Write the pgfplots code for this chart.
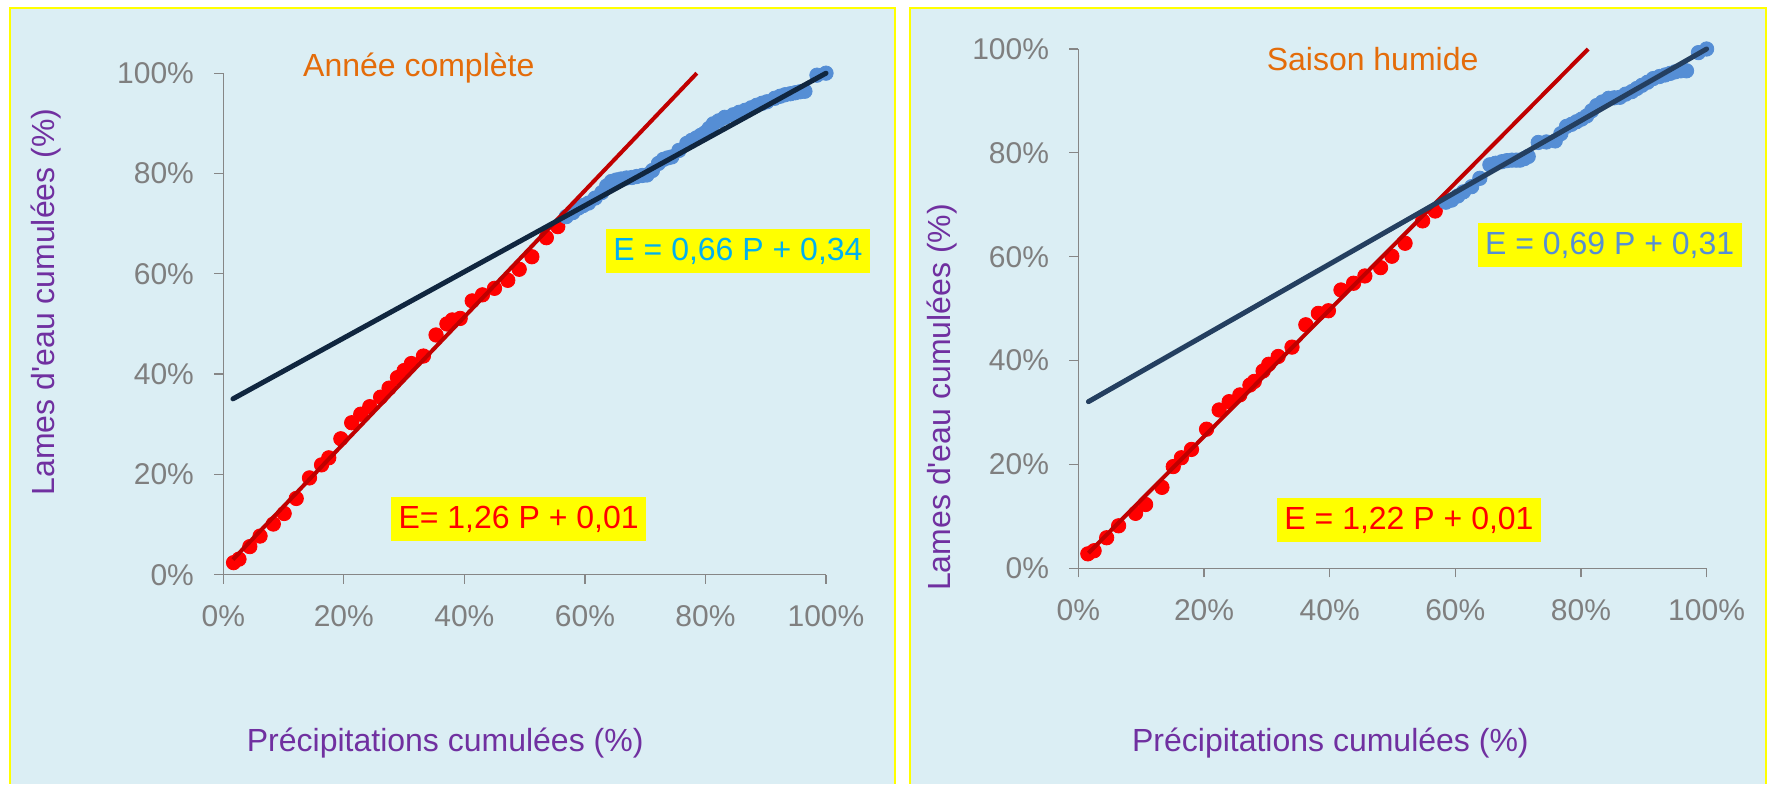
\documentclass[border=0pt]{standalone}
\usepackage{fontspec}
\setmainfont{Liberation Sans}
\usepackage{pgfplots}
\pgfplotsset{compat=1.18}
\definecolor{bgblue}{HTML}{DBEEF4}
\definecolor{ylw}{HTML}{FFFF00}
\definecolor{ttlorange}{HTML}{E46C0A}
\definecolor{lblpurple}{HTML}{7030A0}
\definecolor{eqcyan}{HTML}{00B0F0}
\definecolor{eqsteel}{HTML}{558ED5}
\definecolor{dotred}{HTML}{FF0000}
\definecolor{dotblue}{HTML}{558ED5}
\definecolor{linered}{HTML}{C00000}
\definecolor{navyA}{HTML}{10263F}
\definecolor{navyB}{HTML}{243F60}
\definecolor{axgray}{HTML}{868686}
\definecolor{tkgray}{HTML}{7F7F7F}

\pgfplotsset{myaxis/.style={
  scale only axis, anchor=south west,
  xmin=0, xmax=1, ymin=0, ymax=1,
  axis lines*=left,
  axis line style={axgray, line width=0.6pt},
  tick align=outside, major tick length=4.5pt,
  every tick/.style={axgray, line width=0.6pt},
  xtick={0,0.2,0.4,0.6,0.8,1}, ytick={0,0.2,0.4,0.6,0.8,1},
  xticklabels={0\%,20\%,40\%,60\%,80\%,100\%},
  yticklabels={0\%,20\%,40\%,60\%,80\%,100\%},
  ticklabel style={font=\fontsize{15}{18}\selectfont, text=tkgray},
  xticklabel style={anchor=center, inner sep=0pt, yshift=-16.3pt},
  yticklabel style={anchor=east, inner sep=0pt, xshift=-10pt},
  clip=false, clip marker paths=true,
}}
\pgfplotsset{
  reddot/.style={only marks, mark=*, mark size=3.6pt, color=dotred},
  bluedot/.style={only marks, mark=*, mark size=3.6pt, color=dotblue},
}

\begin{document}
\begin{tikzpicture}
\fill[white] (0,0) rectangle (884.5pt,392pt);
\fill[bgblue] (5pt,0) rectangle (447.5pt,388pt);
\draw[ylw, line width=1.2pt] (5pt,0) -- (5pt,388pt) -- (447.5pt,388pt) -- (447.5pt,0);
\fill[bgblue] (455pt,0) rectangle (883pt,388pt);
\draw[ylw, line width=1.2pt] (455pt,0) -- (455pt,388pt) -- (883pt,388pt) -- (883pt,0);

% ---------- left panel ----------
\begin{axis}[myaxis, at={(111.65pt,104.65pt)}, width=301.35pt, height=250.75pt]
\addplot[reddot] coordinates {
(0.017,0.024) (0.026,0.031) (0.044,0.056) (0.061,0.077) (0.083,0.101)
(0.101,0.122) (0.121,0.152) (0.143,0.193) (0.163,0.219) (0.175,0.233)
(0.195,0.271) (0.213,0.303) (0.228,0.320) (0.243,0.335) (0.261,0.354)
(0.275,0.372) (0.289,0.393) (0.300,0.407) (0.312,0.421) (0.332,0.436)
(0.353,0.478) (0.371,0.500) (0.380,0.508) (0.393,0.511) (0.413,0.546)
(0.430,0.558) (0.450,0.571) (0.472,0.587) (0.491,0.609) (0.512,0.634)
(0.536,0.672) (0.555,0.694)};
\addplot[bluedot] coordinates {
(0.569,0.714) (0.580,0.722) (0.589,0.731) (0.597,0.736) (0.606,0.741)
(0.617,0.751) (0.628,0.762) (0.636,0.775) (0.644,0.784) (0.652,0.787)
(0.660,0.789) (0.669,0.791) (0.678,0.792) (0.686,0.794) (0.695,0.796)
(0.703,0.797) (0.712,0.806) (0.722,0.820) (0.730,0.828) (0.737,0.831)
(0.744,0.833) (0.756,0.846) (0.769,0.860) (0.777,0.866) (0.785,0.871)
(0.792,0.876) (0.799,0.881) (0.806,0.890) (0.813,0.899) (0.822,0.905)
(0.832,0.912) (0.846,0.917) (0.856,0.922) (0.866,0.926) (0.876,0.931)
(0.885,0.936) (0.894,0.940) (0.902,0.943) (0.915,0.950) (0.924,0.954)
(0.932,0.957) (0.941,0.959) (0.949,0.961) (0.957,0.963) (0.965,0.964)
(0.985,0.996) (1.000,1.000)};
\addplot[linered, line width=2pt, line cap=butt] coordinates {(0.016,0.0302) (0.7857,1.0)};
\addplot[navyA, line width=2.5pt, line cap=round] coordinates {(0.016,0.3506) (1.0,1.0)};
\end{axis}

% ---------- right panel ----------
\begin{axis}[myaxis, at={(539.2pt,107.8pt)}, width=314.1pt, height=259.7pt]
\addplot[reddot] coordinates {
(0.015,0.028) (0.025,0.034) (0.045,0.059) (0.064,0.082) (0.091,0.106)
(0.107,0.123) (0.133,0.156) (0.151,0.196) (0.164,0.213) (0.180,0.229)
(0.204,0.268) (0.224,0.305) (0.240,0.321) (0.257,0.334) (0.273,0.353)
(0.280,0.360) (0.294,0.380) (0.303,0.393) (0.318,0.408) (0.340,0.426)
(0.362,0.469) (0.382,0.491) (0.398,0.496) (0.418,0.536) (0.438,0.549)
(0.456,0.563) (0.481,0.579) (0.499,0.601) (0.520,0.626) (0.548,0.669)
(0.568,0.688)};
\addplot[bluedot] coordinates {
(0.585,0.705) (0.594,0.709) (0.604,0.717) (0.613,0.725) (0.626,0.735)
(0.639,0.751) (0.655,0.777) (0.664,0.780) (0.674,0.783) (0.682,0.785)
(0.690,0.786) (0.697,0.786) (0.703,0.786) (0.710,0.789) (0.716,0.793)
(0.732,0.820) (0.745,0.821) (0.759,0.823) (0.768,0.837) (0.777,0.851)
(0.785,0.855) (0.793,0.860) (0.801,0.865) (0.809,0.871) (0.817,0.881)
(0.825,0.891) (0.834,0.898) (0.844,0.905) (0.853,0.906) (0.862,0.907)
(0.871,0.913) (0.881,0.918) (0.889,0.924) (0.897,0.930) (0.906,0.936)
(0.915,0.943) (0.925,0.947) (0.934,0.950) (0.942,0.953) (0.950,0.956)
(0.959,0.958) (0.968,0.958) (0.987,0.993) (1.000,1.000)};
\addplot[linered, line width=2pt, line cap=butt] coordinates {(0.016,0.0295) (0.8115,1.0)};
\addplot[navyB, line width=2.5pt, line cap=round] coordinates {(0.016,0.321) (1.0,1.0)};
\end{axis}

% ---------- texts ----------
\node[text=ttlorange, font=\fontsize{16}{19}\selectfont] at (209.4pt,357.8pt) {Année complète};
\node[text=ttlorange, font=\fontsize{16}{19}\selectfont] at (686.3pt,362.5pt) {Saison humide};
\node[text=lblpurple, font=\fontsize{16}{19}\selectfont, rotate=90] at (23pt,241pt) {Lames d\textquotesingle eau cumulées (\%)};
\node[text=lblpurple, font=\fontsize{16}{19}\selectfont, rotate=90] at (470.8pt,193.25pt) {Lames d\textquotesingle eau cumulées (\%)};
\node[text=lblpurple, font=\fontsize{16}{19}\selectfont] at (222.6pt,20.25pt) {Précipitations cumulées (\%)};
\node[text=lblpurple, font=\fontsize{16}{19}\selectfont] at (665.2pt,20.25pt) {Précipitations cumulées (\%)};

\node[fill=ylw, text=eqcyan, font=\fontsize{16}{19}\selectfont, minimum width=132.4pt, minimum height=21.75pt, inner sep=0pt] at (369pt,266.4pt) {E = 0,66 P + 0,34};
\node[fill=ylw, text=dotred, font=\fontsize{16}{19}\selectfont, minimum width=127.85pt, minimum height=21.95pt, inner sep=0pt] at (259.3pt,132.3pt) {E= 1,26 P + 0,01};
\node[fill=ylw, text=eqsteel, font=\fontsize{16}{19}\selectfont, minimum width=131.95pt, minimum height=22pt, inner sep=0pt] at (804.8pt,269.25pt) {E = 0,69 P + 0,31};
\node[fill=ylw, text=dotred, font=\fontsize{16}{19}\selectfont, minimum width=132pt, minimum height=22pt, inner sep=0pt] at (704.5pt,131.75pt) {E = 1,22 P + 0,01};
\end{tikzpicture}
\end{document}
